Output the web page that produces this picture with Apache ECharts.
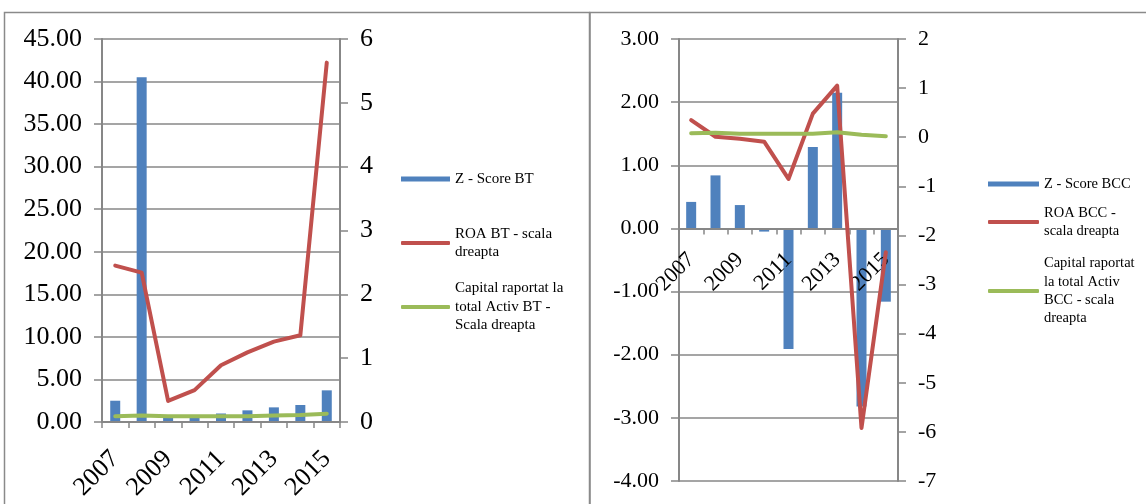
<!DOCTYPE html>
<html>
<head>
<meta charset="utf-8">
<script src="https://cdn.jsdelivr.net/npm/echarts@6/dist/echarts.min.js"></script>
<style>
  html, body { margin: 0; padding: 0; background: #fff; }
  #chart { width: 1146px; height: 504px; }
</style>
</head>
<body>
<div id="chart"></div>
<script>
// Years on the category axes
const years = ['2007', '2008', '2009', '2010', '2011', '2012', '2013', '2014', '2015'];

// Banca Transilvania (BT)
const zScoreBT = [2.5, 40.5, 0.7, 0.6, 1.0, 1.37, 1.72, 2.0, 3.72];
const roaBT = [2.45, 2.34, 0.33, 0.50, 0.89, 1.09, 1.26, 1.36, 5.63];
const capitalBT = [0.09, 0.10, 0.09, 0.09, 0.09, 0.09, 0.10, 0.11, 0.13];

// BCC
const zScoreBCC = [0.42, 0.84, 0.37, -0.05, -1.91, 1.29, 2.15, -2.82, -1.16];
const roaBCC = [0.35, 0.01, -0.03, -0.09, -0.85, 0.48, 1.05, -5.92, -2.34];
const capitalBCC = [0.08, 0.09, 0.07, 0.07, 0.07, 0.07, 0.10, 0.05, 0.02];

// Series names and their wrapped legend labels
const namesBT = ['Z - Score BT', 'ROA BT - scala dreapta', 'Capital raportat la total Activ BT - Scala dreapta'];
const labelsBT = ['Z - Score BT', 'ROA BT - scala\ndreapta', 'Capital raportat la\ntotal Activ BT -\nScala dreapta'];
const namesBCC = ['Z - Score BCC', 'ROA BCC - scala dreapta', 'Capital raportat la total Activ BCC - scala dreapta'];
const labelsBCC = ['Z - Score BCC', 'ROA BCC -\nscala dreapta', 'Capital raportat\nla total Activ\nBCC - scala\ndreapta'];

const SERIF = "'Liberation Serif', 'Times New Roman', serif";
const GREY = '#878787';
const BLUE = '#4F81BD', RED = '#C0504D', GREEN = '#9BBB59';

const chart = echarts.init(document.getElementById('chart'), null, { renderer: 'canvas' });

// One legend block per entry; the icon sits on the first text line.
function legendEntry(name, label, left, cy, fontSize, lineH, itemWidth, isBar) {
  const n = label.split('\n').length;
  const iconH = isBar ? 5 : 4;
  const boxH = Math.max((2 * n - 1) * lineH, iconH);
  return {
    data: [name],
    left: left,
    top: cy - boxH / 2,
    orient: 'vertical',
    padding: 0,
    itemWidth: itemWidth,
    itemHeight: iconH,
    icon: isBar ? 'rect' : 'roundRect',
    selectedMode: false,
    formatter: () => label,
    textStyle: {
      fontFamily: SERIF, fontSize: fontSize, lineHeight: lineH, color: '#000',
      padding: [(n - 1) * lineH, 0, 0, 0]
    }
  };
}

function valueAxis(gridIndex, pos, min, max, step, fontSize, decimals, showSplit) {
  return {
    type: 'value', gridIndex: gridIndex, position: pos,
    min: min, max: max, interval: step,
    axisLine: { show: true, lineStyle: { color: GREY, width: 2 } },
    axisTick: { show: true, length: 8, inside: false, lineStyle: { color: GREY, width: 1.5 } },
    splitLine: { show: showSplit, lineStyle: { color: GREY, width: 1.5 } },
    axisLabel: {
      fontFamily: SERIF, fontSize: fontSize, color: '#000', margin: 20,
      formatter: v => v.toFixed(decimals)
    }
  };
}

// Category axis drawn above the bars so its year labels stay readable
function catAxis(gridIndex, fontSize, margin, offset) {
  return {
    type: 'category', gridIndex: gridIndex, data: years, boundaryGap: true,
    offset: offset, z: 5,
    axisLine: { show: true, onZero: false, lineStyle: { color: GREY, width: 2 } },
    axisTick: { show: true, interval: 0, length: 6, lineStyle: { color: GREY, width: 1.5 } },
    splitLine: { show: false },
    axisLabel: {
      interval: 1, rotate: 45, fontFamily: SERIF, fontSize: fontSize, color: '#000', margin: margin
    }
  };
}

const lineStyleOf = c => ({ color: c, width: 4, cap: 'round', join: 'round' });

// The BCC category axis sits on the zero of its left scale (-4 .. 3 over 442 px)
const bccZeroOffset = -(442 * 4 / 7);

const option = {
  animation: false,
  backgroundColor: '#fff',
  grid: [
    { left: 102, top: 39, width: 238, height: 383, outerBoundsMode: 'none' },
    { left: 679, top: 39, width: 219, height: 442, outerBoundsMode: 'none' }
  ],
  xAxis: [
    catAxis(0, 26, 33, 0),
    catAxis(1, 22, 28, bccZeroOffset)
  ],
  yAxis: [
    valueAxis(0, 'left', 0, 45, 5, 26, 2, true),
    valueAxis(0, 'right', 0, 6, 1, 26, 0, false),
    valueAxis(1, 'left', -4, 3, 1, 22, 2, true),
    valueAxis(1, 'right', -7, 2, 1, 22, 0, false)
  ],
  legend: [
    legendEntry(namesBT[0], labelsBT[0], 401, 179, 15, 18.5, 49, true),
    legendEntry(namesBT[1], labelsBT[1], 401, 243, 15, 18.5, 49, false),
    legendEntry(namesBT[2], labelsBT[2], 401, 307, 15, 18.5, 49, false),
    legendEntry(namesBCC[0], labelsBCC[0], 988, 184, 14.5, 18.3, 51, true),
    legendEntry(namesBCC[1], labelsBCC[1], 988, 222, 14.5, 18.3, 51, false),
    legendEntry(namesBCC[2], labelsBCC[2], 988, 291, 14.5, 18.3, 51, false)
  ],
  graphic: [
    { type: 'rect', shape: { x: 4.5, y: 12.5, width: 585, height: 500 },
      style: { fill: null, stroke: '#8a8a8a', lineWidth: 1.5 }, silent: true },
    { type: 'rect', shape: { x: 590, y: 12.5, width: 570, height: 500 },
      style: { fill: null, stroke: '#8a8a8a', lineWidth: 1.5 }, silent: true }
  ],
  series: [
    { name: namesBT[0], type: 'bar', xAxisIndex: 0, yAxisIndex: 0, data: zScoreBT,
      barWidth: 10, itemStyle: { color: BLUE } },
    { name: namesBT[1], type: 'line', xAxisIndex: 0, yAxisIndex: 1, data: roaBT,
      symbol: 'none', color: RED, lineStyle: lineStyleOf(RED), z: 6 },
    { name: namesBT[2], type: 'line', xAxisIndex: 0, yAxisIndex: 1, data: capitalBT,
      symbol: 'none', color: GREEN, lineStyle: lineStyleOf(GREEN), z: 7 },
    { name: namesBCC[0], type: 'bar', xAxisIndex: 1, yAxisIndex: 2, data: zScoreBCC,
      barWidth: 10, itemStyle: { color: BLUE } },
    { name: namesBCC[1], type: 'line', xAxisIndex: 1, yAxisIndex: 3, data: roaBCC,
      symbol: 'none', color: RED, lineStyle: lineStyleOf(RED), z: 6 },
    { name: namesBCC[2], type: 'line', xAxisIndex: 1, yAxisIndex: 3, data: capitalBCC,
      symbol: 'none', color: GREEN, lineStyle: lineStyleOf(GREEN), z: 7 }
  ]
};

chart.setOption(option);
</script>
</body>
</html>
